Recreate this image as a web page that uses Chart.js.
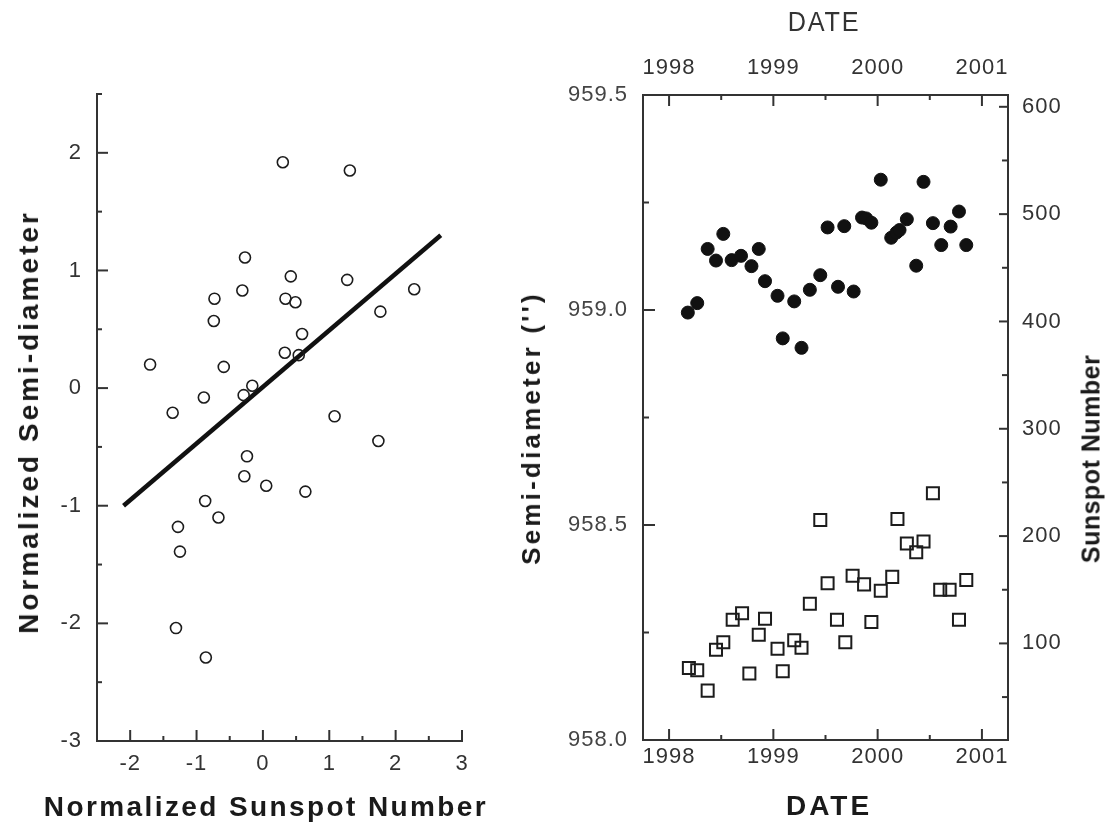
<!DOCTYPE html>
<html>
<head>
<meta charset="utf-8">
<script src="https://cdn.jsdelivr.net/npm/chart.js@4.4.1/dist/chart.umd.min.js"></script>
<style>
  html, body { margin: 0; padding: 0; background: #fff; }
  body { width: 1108px; height: 827px; position: relative; overflow: hidden; }
  canvas { position: absolute; top: 0; }
  #leftCanvas { left: 0; }
  #rightCanvas { left: 554px; }
  .title { position: absolute; white-space: nowrap; color: #1a1a1a;
           font-family: 'Liberation Sans', Arial, sans-serif; font-weight: bold;
           transform: translate(-50%, -50%); line-height: 1; }
  .rot { transform: translate(-50%, -50%) rotate(-90deg); }
</style>
</head>
<body>
<canvas id="leftCanvas" width="554" height="827"></canvas>
<canvas id="rightCanvas" width="554" height="827"></canvas>

<div class="title rot" style="left:29px; top:422px; font-size:28px; letter-spacing:3px;">Normalized Semi-diameter</div>
<div class="title" style="left:266px; top:807px; font-size:28px; letter-spacing:2.4px;">Normalized Sunspot Number</div>
<div class="title rot" style="left:531px; top:428px; font-size:26px; letter-spacing:3.2px;">Semi-diameter ('')</div>
<div class="title rot" style="left:1091px; top:459px; font-size:25px; letter-spacing:0.5px;">Sunspot Number</div>
<div class="title" style="left:829px; top:806px; font-size:28px; letter-spacing:3px;">DATE</div>
<div class="title" style="left:824px; top:22px; font-size:28px; font-weight:normal; letter-spacing:2px; color:#333; transform:translate(-50%,-50%) scaleX(0.9);">DATE</div>

<script>
// ---------- LEFT PANEL DATA ----------
const sunspotNorm = [0.30, 1.31, -0.27, 0.42, 1.27, 2.28, -0.31, -0.73, 0.34, 0.49, 1.77, -0.74, 0.59, 0.33, 0.54, -1.70, -0.59, -0.16, -0.29, -0.89, -1.36, 1.08, 1.74, -0.24, -0.28, 0.05, 0.64, -0.87, -0.67, -1.28, -1.25, -1.31, -0.86];
const semiDiamNorm = [1.92, 1.85, 1.11, 0.95, 0.92, 0.84, 0.83, 0.76, 0.76, 0.73, 0.65, 0.57, 0.46, 0.30, 0.28, 0.20, 0.18, 0.02, -0.06, -0.08, -0.21, -0.24, -0.45, -0.58, -0.75, -0.83, -0.88, -0.96, -1.10, -1.18, -1.39, -2.04, -2.29];
const fitX = [-2.10, 2.68];
const fitY = [-1.00, 1.30];

const leftXTickValues = [-2, -1, 0, 1, 2, 3];
const leftXTickLabels = ['-2', '-1', '0', '1', '2', '3'];
const leftXMinor = [-2.5, -1.5, -0.5, 0.5, 1.5, 2.5];
const leftYTickValues = [-3, -2, -1, 0, 1, 2];
const leftYTickLabels = ['-3', '-2', '-1', '0', '1', '2'];
const leftYMinor = [-2.5, -1.5, -0.5, 0.5, 1.5, 2.5];

// ---------- RIGHT PANEL DATA ----------
const radiusDates = [1998.18, 1998.27, 1998.37, 1998.45, 1998.52, 1998.60, 1998.69, 1998.79, 1998.86, 1998.92, 1999.04, 1999.09, 1999.20, 1999.27, 1999.35, 1999.45, 1999.52, 1999.62, 1999.68, 1999.77, 1999.85, 1999.89, 1999.94, 2000.03, 2000.13, 2000.18, 2000.21, 2000.28, 2000.37, 2000.44, 2000.53, 2000.61, 2000.70, 2000.78, 2000.85];
const radiusValues = [958.994, 959.016, 959.142, 959.115, 959.177, 959.116, 959.126, 959.102, 959.142, 959.067, 959.033, 958.934, 959.020, 958.912, 959.047, 959.081, 959.192, 959.054, 959.195, 959.043, 959.215, 959.213, 959.203, 959.303, 959.168, 959.180, 959.186, 959.211, 959.103, 959.298, 959.202, 959.151, 959.194, 959.229, 959.151];
const sunspotDates = [1998.19, 1998.27, 1998.37, 1998.45, 1998.52, 1998.61, 1998.70, 1998.77, 1998.86, 1998.92, 1999.04, 1999.09, 1999.20, 1999.27, 1999.35, 1999.45, 1999.52, 1999.61, 1999.69, 1999.76, 1999.87, 1999.94, 2000.03, 2000.14, 2000.19, 2000.28, 2000.37, 2000.44, 2000.53, 2000.60, 2000.69, 2000.78, 2000.85];
const sunspotValues = [77, 75, 56, 94, 101, 122, 128, 72, 108, 123, 95, 74, 103, 96, 137, 215, 156, 122, 101, 163, 155, 120, 149, 162, 216, 193, 185, 195, 240, 150, 150, 122, 159];

const dateTickValues = [1998, 1999, 2000, 2001];
const dateTickLabels = ['1998', '1999', '2000', '2001'];
const dateMinor = [1998.5, 1999.5, 2000.5];
const semiTickValues = [958.0, 958.5, 959.0, 959.5];
const semiTickLabels = ['958.0', '958.5', '959.0', '959.5'];
const semiMinor = [958.25, 958.75, 959.25];
const spotTickValues = [100, 200, 300, 400, 500, 600];
const spotTickLabels = ['100', '200', '300', '400', '500', '600'];
const spotMinor = [50, 150, 250, 350, 450, 550];

// ---------- SHARED STYLE ----------
const INK = '#1c1c1c';
const AXIS = '#333';
const tickFont = { family: "'Liberation Sans', Arial, sans-serif", size: 22 };

const spacingPlugin = {
  id: 'spacing',
  beforeUpdate(chart) { chart.ctx.letterSpacing = '1px'; },
  beforeDraw(chart) { chart.ctx.letterSpacing = '1px'; }
};

function fixedTicks(values) {
  return function (scale) { scale.ticks = values.map(v => ({ value: v })); };
}

// Inward tick marks drawn through the scales
const inwardTicks = {
  id: 'inwardTicks',
  afterDraw(chart, args, opts) {
    const ctx = chart.ctx;
    ctx.save();
    ctx.strokeStyle = AXIS;
    ctx.lineWidth = 2;
    (opts.specs || []).forEach(spec => {
      const s = chart.scales[spec.id];
      if (!s) return;
      const draw = (v, len) => {
        const p = s.getPixelForValue(v);
        ctx.beginPath();
        if (s.position === 'left') { ctx.moveTo(s.right, p); ctx.lineTo(s.right + len, p); }
        else if (s.position === 'right') { ctx.moveTo(s.left, p); ctx.lineTo(s.left - len, p); }
        else if (s.position === 'bottom') { ctx.moveTo(p, s.top); ctx.lineTo(p, s.top - len); }
        else { ctx.moveTo(p, s.bottom); ctx.lineTo(p, s.bottom + len); }
        ctx.stroke();
      };
      spec.majors.forEach(v => draw(v, spec.majorLen));
      spec.minors.forEach(v => draw(v, spec.minorLen));
    });
    ctx.restore();
  }
};

function axisBase(extra) {
  return Object.assign({
    type: 'linear',
    grid: { display: false, drawTicks: false },
    border: { display: true, color: AXIS, width: 2 },
  }, extra);
}

// ---------- LEFT CHART ----------
new Chart(document.getElementById('leftCanvas'), {
  type: 'scatter',
  data: {
    datasets: [
      {
        label: 'Normalized points',
        data: sunspotNorm.map((x, i) => ({ x: x, y: semiDiamNorm[i] })),
        pointStyle: 'circle',
        pointRadius: 5.5,
        borderColor: INK,
        backgroundColor: 'rgba(0,0,0,0)',
        borderWidth: 1.6
      },
      {
        label: 'Fit',
        data: fitX.map((x, i) => ({ x: x, y: fitY[i] })),
        showLine: true,
        pointRadius: 0,
        pointHoverRadius: 0,
        borderColor: '#111',
        borderWidth: 4.5
      }
    ]
  },
  options: {
    responsive: false,
    animation: false,
    events: [],
    layout: { padding: { left: 0, right: 92, top: 94, bottom: 0 } },
    plugins: {
      legend: { display: false },
      tooltip: { enabled: false },
      inwardTicks: {
        specs: [
          { id: 'x', majors: leftXTickValues, minors: leftXMinor, majorLen: 11, minorLen: 5 },
          { id: 'y', majors: leftYTickValues, minors: leftYMinor, majorLen: 11, minorLen: 5 }
        ]
      }
    },
    scales: {
      x: axisBase({
        position: 'bottom', min: -2.5, max: 3,
        afterBuildTicks: fixedTicks(leftXTickValues),
        afterFit(s) { s.height = 86; },
        ticks: { font: tickFont, color: '#333', padding: 10, maxRotation: 0, autoSkip: false,
                 callback: (v, i) => leftXTickLabels[i] }
      }),
      y: axisBase({
        position: 'left', min: -3, max: 2.5,
        afterBuildTicks: fixedTicks(leftYTickValues),
        afterFit(s) { s.width = 97; },
        ticks: { font: tickFont, color: '#333', padding: 15, autoSkip: false,
                 callback: (v, i) => leftYTickLabels[i] }
      })
    }
  },
  plugins: [spacingPlugin, inwardTicks]
});

// ---------- RIGHT CHART ----------
new Chart(document.getElementById('rightCanvas'), {
  type: 'scatter',
  data: {
    datasets: [
      {
        label: 'Semi-diameter',
        data: radiusDates.map((x, i) => ({ x: x, y: radiusValues[i] })),
        yAxisID: 'y',
        pointStyle: 'circle',
        pointRadius: 6.5,
        backgroundColor: '#111',
        borderColor: '#111',
        borderWidth: 1
      },
      {
        label: 'Sunspot Number',
        data: sunspotDates.map((x, i) => ({ x: x, y: sunspotValues[i] })),
        yAxisID: 'y2',
        pointStyle: 'rect',
        pointRadius: 8.5,
        backgroundColor: 'rgba(0,0,0,0)',
        borderColor: INK,
        borderWidth: 2
      }
    ]
  },
  options: {
    responsive: false,
    animation: false,
    events: [],
    layout: { padding: 0 },
    plugins: {
      legend: { display: false },
      tooltip: { enabled: false },
      inwardTicks: {
        specs: [
          { id: 'x', majors: dateTickValues, minors: dateMinor, majorLen: 11, minorLen: 5 },
          { id: 'x2', majors: dateTickValues, minors: dateMinor, majorLen: 11, minorLen: 5 },
          { id: 'y', majors: semiTickValues, minors: semiMinor, majorLen: 12, minorLen: 6 },
          { id: 'y2', majors: spotTickValues, minors: spotMinor, majorLen: 9, minorLen: 6 }
        ]
      }
    },
    scales: {
      x: axisBase({
        position: 'bottom', min: 1997.75, max: 2001.25,
        afterBuildTicks: fixedTicks(dateTickValues),
        afterFit(s) { s.height = 87; },
        ticks: { font: tickFont, color: '#333', padding: 4, maxRotation: 0, autoSkip: false,
                 callback: (v, i) => dateTickLabels[i] }
      }),
      x2: axisBase({
        position: 'top', min: 1997.75, max: 2001.25,
        afterBuildTicks: fixedTicks(dateTickValues),
        afterFit(s) { s.height = 95; },
        ticks: { font: tickFont, color: '#333', padding: 14, maxRotation: 0, autoSkip: false,
                 callback: (v, i) => dateTickLabels[i] }
      }),
      y: axisBase({
        position: 'left', min: 958.0, max: 959.5,
        afterBuildTicks: fixedTicks(semiTickValues),
        afterFit(s) { s.width = 89; },
        ticks: { font: tickFont, color: '#444', padding: 15, autoSkip: false,
                 callback: (v, i) => semiTickLabels[i] }
      }),
      y2: axisBase({
        position: 'right', min: 10, max: 611,
        afterBuildTicks: fixedTicks(spotTickValues),
        afterFit(s) { s.width = 100; },
        ticks: { font: tickFont, color: '#333', padding: 14, autoSkip: false,
                 callback: (v, i) => spotTickLabels[i] }
      })
    }
  },
  plugins: [spacingPlugin, inwardTicks]
});
</script>
</body>
</html>
